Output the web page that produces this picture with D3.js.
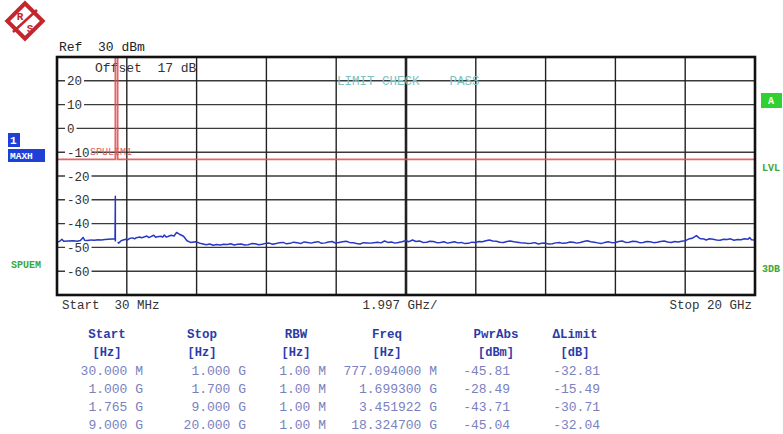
<!DOCTYPE html>
<html>
<head>
<meta charset="utf-8">
<script src="https://cdn.jsdelivr.net/npm/d3@7"></script>
<style>
  body { margin: 0; background: #fff; }
  text { font-family: "Liberation Mono", "DejaVu Sans Mono", monospace; white-space: pre; }
</style>
</head>
<body>
<div id="chart"></div>
<script>
//trace data, [GHz, dBm], one array per sweep range
const range1 = [[0.03, -47.6], [0.1, -47.5], [0.17, -46.6], [0.22, -47.4], [0.35, -47.3], [0.5, -47.2],
    [0.6, -47.4], [0.7, -47.1], [0.777094, -45.81], [0.82, -47.0], [0.9, -47.1], [1.0, -46.9]];
const range2 = [[1.0, -46.9], [1.1, -47.0], [1.2, -46.8], [1.3, -46.9], [1.4, -46.7], [1.5, -46.6],
    [1.6, -46.5], [1.69, -46.4], [1.6993, -28.49], [1.70, -47.5]];
const range3 = [[1.765, -47.8], [1.8, -48.2], [1.85, -47.4], [1.9, -47.0], [2.0, -46.6], [2.05, -46.9],
    [2.1, -46.3], [2.2, -46.0], [2.25, -46.4], [2.3, -45.9], [2.4, -45.6], [2.45, -46.0], [2.5, -45.7],
    [2.6, -45.2], [2.65, -45.8], [2.7, -45.6], [2.8, -44.9], [2.85, -45.7], [2.9, -45.5], [3.0, -45.3],
    [3.05, -45.7], [3.1, -44.8], [3.15, -45.6], [3.2, -45.4], [3.3, -44.9], [3.38, -45.2],
    [3.451922, -43.71], [3.55, -44.6], [3.65, -45.3], [3.75, -47.2], [3.85, -47.9], [4.0, -47.6],
    [4.15, -48.4], [4.3, -48.9], [4.4, -48.6], [4.5, -49.1], [4.6, -48.8], [4.7, -49.0], [4.8, -48.7],
    [4.9, -48.8], [5.0, -48.5], [5.1, -49.0], [5.2, -48.7], [5.3, -48.6], [5.4, -49.0], [5.5, -48.9],
    [5.6, -48.4], [5.7, -48.5], [5.8, -48.9], [5.9, -48.7], [6.0, -48.3], [6.1, -48.2], [6.2, -48.7],
    [6.3, -48.4], [6.4, -48.0], [6.5, -47.9], [6.6, -48.5], [6.7, -48.3], [6.8, -47.8], [6.9, -48.0],
    [7.0, -48.4], [7.1, -47.7], [7.2, -47.9], [7.3, -48.2], [7.4, -47.8], [7.5, -47.6], [7.6, -48.3],
    [7.7, -48.1], [7.8, -47.7], [7.9, -47.5], [8.0, -48.2], [8.1, -47.9], [8.2, -47.6], [8.3, -47.4],
    [8.4, -47.9], [8.5, -48.0], [8.6, -48.4], [8.7, -48.6], [8.8, -48.0], [8.9, -48.1], [9.0, -48.3]];
const range4 = [[9.0, -48.3], [9.1, -48.0], [9.2, -47.8], [9.3, -48.1], [9.4, -47.3], [9.5, -47.9],
    [9.6, -47.7], [9.7, -48.2], [9.8, -47.9], [9.9, -47.6], [10.0, -47.2], [10.1, -47.6], [10.2, -46.9],
    [10.3, -47.5], [10.4, -47.3], [10.5, -47.9], [10.6, -47.8], [10.7, -47.4], [10.8, -47.5], [10.9, -48.0],
    [11.0, -47.9], [11.1, -47.6], [11.2, -48.2], [11.3, -47.9], [11.4, -47.6], [11.5, -48.1], [11.6, -47.9],
    [11.7, -48.4], [11.8, -48.3], [11.9, -47.8], [12.0, -47.9], [12.1, -47.5], [12.2, -47.6], [12.3, -47.2],
    [12.4, -46.9], [12.5, -47.3], [12.6, -47.4], [12.7, -47.8], [12.8, -47.9], [12.9, -47.5], [13.0, -47.3],
    [13.1, -47.6], [13.2, -47.8], [13.3, -48.0], [13.4, -48.1], [13.5, -48.4], [13.6, -48.3], [13.7, -48.0],
    [13.8, -48.6], [13.9, -48.3], [14.0, -48.2], [14.1, -48.6], [14.2, -48.5], [14.3, -48.1], [14.4, -47.9],
    [14.5, -48.3], [14.6, -48.2], [14.7, -47.7], [14.8, -47.8], [14.9, -48.2], [15.0, -47.9], [15.1, -47.5],
    [15.2, -47.2], [15.3, -47.6], [15.4, -47.8], [15.5, -48.1], [15.6, -48.4], [15.7, -47.9], [15.8, -47.6],
    [15.9, -48.0], [16.0, -47.9], [16.1, -47.5], [16.2, -47.3], [16.3, -47.9], [16.4, -47.8], [16.5, -47.4],
    [16.6, -47.5], [16.7, -48.0], [16.8, -47.9], [16.9, -47.5], [17.0, -47.6], [17.1, -48.0], [17.2, -47.8],
    [17.3, -47.5], [17.4, -47.3], [17.5, -47.7], [17.6, -47.9], [17.7, -47.5], [17.8, -47.7], [17.9, -47.4],
    [18.0, -47.2], [18.1, -46.5], [18.2, -46.2], [18.3247, -45.04], [18.4, -46.0], [18.45, -46.4],
    [18.55, -46.5], [18.6, -46.9], [18.7, -46.4], [18.8, -46.6], [18.9, -46.9], [19.0, -47.0], [19.1, -46.6],
    [19.2, -46.7], [19.3, -46.4], [19.4, -47.0], [19.5, -46.7], [19.6, -46.8], [19.7, -46.4], [19.8, -46.6],
    [19.85, -45.9], [19.9, -46.8], [20.0, -46.9]];

//limit line
const limitFreq = [0.03, 1.7, 1.7, 1.765, 1.765, 20];
const limitLvl = [-13, -13, 40, 40, -13, -13];

//axis
const yTicks = [20, 10, 0, -10, -20, -30, -40, -50, -60];
const fStart = 0.03, fStop = 20, fSpan = 1.997;

//peak table
const tableHeads = ["Start", "Stop", "RBW", "Freq", "PwrAbs", "\u0394Limit"];
const tableUnits = ["[Hz]", "[Hz]", "[Hz]", "[Hz]", "[dBm]", "[dB]"];
const startCol = ["30.000 M", "1.000 G", "1.765 G", "9.000 G"];
const stopCol = ["1.000 G", "1.700 G", "9.000 G", "20.000 G"];
const rbwCol = ["1.00 M", "1.00 M", "1.00 M", "1.00 M"];
const freqCol = ["777.094000 M", "1.699300 G", "3.451922 G", "18.324700 G"];
const pwrCol = ["-45.81", "-28.49", "-43.71", "-45.04"];
const limitCol = ["-32.81", "-15.49", "-30.71", "-32.04"];

const margin = { top: 57, left: 57 },
    width = 698,
    height = 238;

const root = d3.select("#chart").append("svg")
    .attr("width", 783)
    .attr("height", 434);

//R&S logo
const logo = root.append("g").attr("transform", "translate(25,21)");
logo.append("rect")
    .attr("x", -12.5).attr("y", -12.5).attr("width", 25).attr("height", 25)
    .attr("transform", "rotate(45)")
    .attr("fill", "#fff").attr("stroke", "#c4262e").attr("stroke-width", 4);
logo.append("line")
    .attr("x1", -12).attr("y1", 11).attr("x2", 12).attr("y2", -11)
    .attr("stroke", "#c4262e").attr("stroke-width", 2.5);
logo.append("text").attr("x", -5).attr("y", -1).attr("text-anchor", "middle")
    .attr("font-size", 11).attr("font-weight", "bold").attr("fill", "#c4262e").text("R");
logo.append("text").attr("x", 5).attr("y", 11).attr("text-anchor", "middle")
    .attr("font-size", 11).attr("font-weight", "bold").attr("fill", "#c4262e").text("S");

root.append("text").attr("x", 59).attr("y", 51)
    .attr("font-size", 13).attr("fill", "#222").text("Ref  30 dBm");

const svg = root.append("g")
    .attr("transform", `translate(${margin.left},${margin.top})`);

const x = d3.scaleLinear().domain([fStart, fStop]).range([0, width]);
const y = d3.scaleLinear().domain([-70, 30]).range([height, 0]);

//grid
const vLines = d3.range(1, 10).map(i => fStart + i * fSpan);
svg.selectAll(".hgrid")
    .data(yTicks)
    .enter().append("line")
    .attr("x1", 0).attr("x2", width)
    .attr("y1", d => y(d)).attr("y2", d => y(d))
    .attr("stroke", "#3a3a3a").attr("stroke-width", 1.4);
svg.selectAll(".vgrid")
    .data(vLines)
    .enter().append("line")
    .attr("x1", d => x(d)).attr("x2", d => x(d))
    .attr("y1", 0).attr("y2", height)
    .attr("stroke", "#222")
    .attr("stroke-width", (d, i) => i === 4 ? 2.6 : 1.4);

//y labels inside the frame
const yAxis = svg.append("g")
    .call(d3.axisRight(y).tickValues(yTicks).tickSize(0).tickPadding(10).tickFormat(d => d));
yAxis.select(".domain").remove();
yAxis.selectAll("text")
    .attr("font-family", "Liberation Mono, monospace")
    .attr("font-size", 12.5)
    .attr("fill", "#333");
yAxis.selectAll(".tick").each(function () {
    const t = d3.select(this).select("text");
    const bb = t.node().getBBox();
    d3.select(this).insert("rect", "text")
        .attr("x", 8).attr("y", bb.y + 1)
        .attr("width", bb.width + 4).attr("height", bb.height - 2)
        .attr("fill", "#fff");
});

svg.append("text").attr("x", 38).attr("y", 15)
    .attr("font-size", 13).attr("fill", "#333").text("Offset  17 dB");

svg.append("text").attr("x", 280).attr("y", y(20) + 4)
    .attr("font-size", 12.5).attr("fill", "#7cc2c0").text("LIMIT CHECK    PASS");

//limit line
svg.append("clipPath").attr("id", "plotclip")
    .append("rect").attr("width", width).attr("height", height);

const line = d3.line()
    .x(d => x(d[0]))
    .y(d => y(d[1]));

const limitData = limitFreq.map((f, i) => [f, limitLvl[i]]);
svg.append("path")
    .datum(limitData)
    .attr("clip-path", "url(#plotclip)")
    .attr("d", line)
    .attr("fill", "none")
    .attr("stroke", "#e0494c")
    .attr("stroke-width", 1.8)
    .attr("opacity", 0.85);

svg.append("text").attr("x", 33).attr("y", y(-13) - 4)
    .attr("font-size", 10).attr("fill", "#e06060").text("SPULIM1");

//trace
[range1, range2, range3, range4].forEach(r => {
    svg.append("path")
        .datum(r)
        .attr("clip-path", "url(#plotclip)")
        .attr("d", line)
        .attr("fill", "none")
        .attr("stroke", "#2638c4")
        .attr("stroke-width", 1.5)
        .attr("stroke-linejoin", "round");
});

//frame
svg.append("rect")
    .attr("width", width).attr("height", height)
    .attr("fill", "none").attr("stroke", "#111").attr("stroke-width", 2.6);

//side labels
root.append("rect").attr("x", 8).attr("y", 133).attr("width", 12).attr("height", 14).attr("fill", "#1f3fd6");
root.append("text").attr("x", 10).attr("y", 144).attr("font-size", 11).attr("font-weight", "bold")
    .attr("fill", "#fff").text("1");
root.append("rect").attr("x", 8).attr("y", 149).attr("width", 37).attr("height", 13).attr("fill", "#1f3fd6");
root.append("text").attr("x", 10).attr("y", 159).attr("font-size", 9.5).attr("font-weight", "bold")
    .attr("fill", "#fff").text("MAXH");
root.append("text").attr("x", 11).attr("y", 268).attr("font-size", 10).attr("font-weight", "bold")
    .attr("fill", "#3aa83a").text("SPUEM");

root.append("rect").attr("x", 761).attr("y", 93).attr("width", 21).attr("height", 15).attr("fill", "#2fd02f");
root.append("text").attr("x", 768).attr("y", 104).attr("font-size", 10).attr("font-weight", "bold")
    .attr("fill", "#fff").text("A");
root.append("text").attr("x", 762).attr("y", 171).attr("font-size", 10).attr("font-weight", "bold")
    .attr("fill", "#3aa83a").text("LVL");
root.append("text").attr("x", 762).attr("y", 272).attr("font-size", 10).attr("font-weight", "bold")
    .attr("fill", "#3aa83a").text("3DB");

//bottom x annotation
root.append("text").attr("x", 62).attr("y", 309).attr("font-size", 12.5).attr("fill", "#333")
    .text("Start  30 MHz");
root.append("text").attr("x", 400).attr("y", 309).attr("text-anchor", "middle")
    .attr("font-size", 12.5).attr("fill", "#333").text("1.997 GHz/");
root.append("text").attr("x", 752).attr("y", 309).attr("text-anchor", "end")
    .attr("font-size", 12.5).attr("fill", "#333").text("Stop 20 GHz");

//table
const headX = [107, 202, 296, 387, 496, 575];
const colRight = [143, 246, 326, 437, 510, 600];
const cols = [startCol, stopCol, rbwCol, freqCol, pwrCol, limitCol];

tableHeads.forEach((h, i) => {
    root.append("text").attr("x", headX[i]).attr("y", 338).attr("text-anchor", "middle")
        .attr("font-size", 12.5).attr("font-weight", "bold").attr("fill", "#2b3ba8").text(h);
    root.append("text").attr("x", headX[i]).attr("y", 356).attr("text-anchor", "middle")
        .attr("font-size", 12).attr("font-weight", "bold").attr("fill", "#2b3ba8").text(tableUnits[i]);
});
cols.forEach((c, i) => {
    c.forEach((v, j) => {
        root.append("text").attr("x", colRight[i]).attr("y", 375 + j * 18).attr("text-anchor", "end")
            .attr("font-size", 13).attr("fill", "#7a80c0").text(v);
    });
});
</script>
</body>
</html>
